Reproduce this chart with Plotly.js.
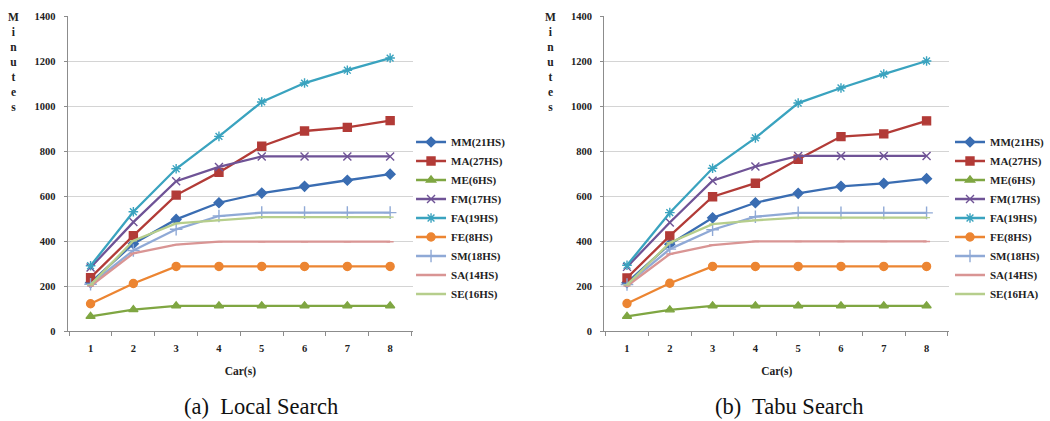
<!DOCTYPE html>
<html>
<head>
<meta charset="utf-8">
<script src="https://cdn.plot.ly/plotly-3.0.1.min.js"></script>
<style>html,body{margin:0;padding:0;background:#fff;}#chart{width:1050px;height:421px;}</style>
</head>
<body>
<div id="chart"></div>
<script>
// ---- data ----
const cars = ['1','2','3','4','5','6','7','8'];
const seriesNames = ['MM(21HS)','MA(27HS)','ME(6HS)','FM(17HS)','FA(19HS)','FE(8HS)','SM(18HS)','SA(14HS)','SE(16HS)'];
const seriesNamesTabu = ['MM(21HS)','MA(27HS)','ME(6HS)','FM(17HS)','FA(19HS)','FE(8HS)','SM(18HS)','SA(14HS)','SE(16HA)'];

// Local Search
const lsMM = [215, 388, 496, 570, 613, 643, 670, 697];
const lsMA = [237, 424, 604, 705, 821, 889, 905, 935];
const lsME = [65, 95, 112, 112, 112, 112, 112, 112];
const lsFM = [282, 484, 666, 729, 776, 776, 776, 776];
const lsFA = [290, 530, 721, 865, 1018, 1102, 1159, 1213];
const lsFE = [121, 211, 287, 287, 287, 287, 287, 287];
const lsSM = [208, 358, 452, 511, 526, 526, 526, 526];
const lsSA = [200, 345, 384, 397, 397, 397, 397, 397];
const lsSE = [205, 401, 478, 493, 506, 506, 506, 506];

// Tabu Search
const tsMM = [215, 386, 503, 570, 612, 643, 656, 677];
const tsMA = [236, 423, 597, 657, 763, 864, 876, 934];
const tsME = [65, 94, 112, 112, 112, 112, 112, 112];
const tsFM = [285, 482, 668, 731, 778, 778, 778, 778];
const tsFA = [292, 526, 723, 858, 1013, 1080, 1142, 1200];
const tsFE = [122, 212, 287, 287, 287, 287, 287, 287];
const tsSM = [207, 364, 450, 508, 525, 525, 525, 525];
const tsSA = [200, 342, 382, 398, 398, 398, 398, 398];
const tsSE = [205, 392, 475, 492, 504, 504, 504, 504];

const yTicks = [0, 200, 400, 600, 800, 1000, 1200, 1400];

// ---- styles ----
const SERIF = 'Liberation Serif';
const colors = ['#3A6DB2','#B23B37','#7FA642','#6F5396','#3AA3BF','#EC8532','#8FA9D6','#D99594','#B6CE8C'];
const symbols = ['diamond','square','triangle-up','x-thin-open','asterisk-open','circle','cross-thin-open','line-ew-open','line-ew-open'];
const sizes = [7.5, 8, 8, 8, 8, 8, 9, 5, 5];

const lsData = [lsMM, lsMA, lsME, lsFM, lsFA, lsFE, lsSM, lsSA, lsSE];
const tsData = [tsMM, tsMA, tsME, tsFM, tsFA, tsFE, tsSM, tsSA, tsSE];

const traces = [];
function addTraces(dataArr, names, xa, ya, lg) {
  dataArr.forEach((ys, i) => {
    traces.push({
      x: cars, y: ys, type: 'scatter', mode: 'lines+markers', name: names[i],
      xaxis: xa, yaxis: ya, legend: lg,
      line: {color: colors[i], width: 2.3},
      marker: {symbol: symbols[i], size: sizes[i], color: colors[i], line: {color: colors[i], width: 1.4}}
    });
  });
}
addTraces(lsData, seriesNames, 'x', 'y', 'legend');
addTraces(tsData, seriesNamesTabu, 'x2', 'y2', 'legend2');

const W = 1050, H = 421;
function tickFont() { return {family: SERIF, size: 10.5, color: '#222', weight: 'bold'}; }
function xAxis(domain, anchor) {
  return {
    domain: domain, anchor: anchor, type: 'category', tickson: 'boundaries',
    ticks: 'outside', ticklen: 4, tickcolor: '#8c8c8c', showline: true, linecolor: '#8c8c8c', linewidth: 1,
    showgrid: false, zeroline: false, tickfont: tickFont(), fixedrange: true, ticklabelstandoff: 7,
    title: {text: 'Car(s)', font: {family: SERIF, size: 11.5, color: '#222', weight: 'bold'}, standoff: 14}
  };
}
function yAxis(domain, anchor) {
  return {
    domain: domain, anchor: anchor, range: [0, 1400], tickvals: yTicks,
    ticks: 'outside', ticklen: 3, tickcolor: '#8c8c8c', showline: true, linecolor: '#8c8c8c', linewidth: 1,
    showgrid: true, gridcolor: '#d4d4d4', gridwidth: 1, zeroline: false, tickfont: tickFont(), fixedrange: true,
    ticklabelstandoff: 6
  };
}
const yDom = [1 - 331 / H, 1 - 16 / H];
const legendFont = {family: SERIF, size: 11, color: '#222', weight: 'bold'};

const layout = {
  width: W, height: H, margin: {l: 0, r: 0, t: 0, b: 0},
  paper_bgcolor: '#fff', plot_bgcolor: '#fff',
  xaxis: xAxis([68 / W, 415 / W], 'y'),
  yaxis: yAxis(yDom, 'x'),
  xaxis2: xAxis([607 / W, 954 / W], 'y2'),
  yaxis2: yAxis(yDom, 'x2'),
  legend: {x: 413 / W, xanchor: 'left', y: 1 - 218 / H, yanchor: 'middle', font: legendFont,
           bgcolor: 'rgba(0,0,0,0)', itemwidth: 30, tracegroupgap: 0},
  legend2: {x: 955 / W, xanchor: 'left', y: 1 - 218 / H, yanchor: 'middle', font: legendFont,
           bgcolor: 'rgba(0,0,0,0)', itemwidth: 30, tracegroupgap: 0},
  annotations: [
    {text: 'M<br>i<br>n<br>u<br>t<br>e<br>s', xref: 'paper', yref: 'paper', x: 14 / W, y: 1 - 9 / H,
     xanchor: 'center', yanchor: 'top', showarrow: false, align: 'center',
     font: {family: SERIF, size: 11.5, color: '#222', weight: 'bold'}},
    {text: 'M<br>i<br>n<br>u<br>t<br>e<br>s', xref: 'paper', yref: 'paper', x: 553 / W, y: 1 - 9 / H,
     xanchor: 'center', yanchor: 'top', showarrow: false, align: 'center',
     font: {family: SERIF, size: 11.5, color: '#222', weight: 'bold'}},
    {text: '(a)  Local Search', xref: 'paper', yref: 'paper', x: 262 / W, y: 1 - 406 / H,
     xanchor: 'center', yanchor: 'middle', showarrow: false,
     font: {family: SERIF, size: 22.5, color: '#111'}},
    {text: '(b)  Tabu Search', xref: 'paper', yref: 'paper', x: 793 / W, y: 1 - 406 / H,
     xanchor: 'center', yanchor: 'middle', showarrow: false,
     font: {family: SERIF, size: 22.5, color: '#111'}}
  ]
};

Plotly.newPlot('chart', traces, layout, {displayModeBar: false, staticPlot: true});
</script>
</body>
</html>
